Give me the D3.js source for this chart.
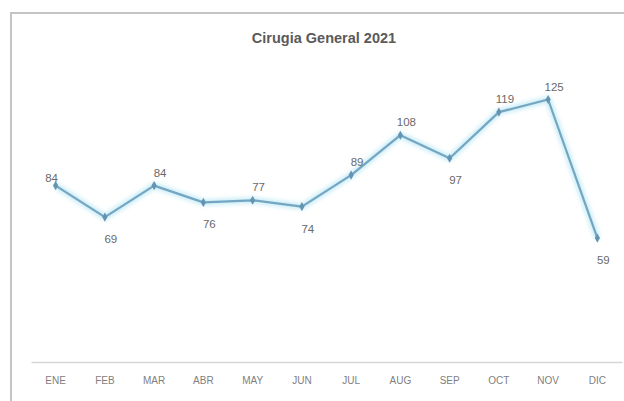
<!DOCTYPE html>
<html>
<head>
<meta charset="utf-8">
<script src="https://cdn.jsdelivr.net/npm/d3@7"></script>
<style>
  html, body { margin: 0; padding: 0; background: #fff; }
  svg { display: block; }
</style>
</head>
<body>
<div id="chart"></div>
<script>
// Monthly surgery counts, General Surgery 2021
const months = ["ENE", "FEB", "MAR", "ABR", "MAY", "JUN", "JUL", "AUG", "SEP", "OCT", "NOV", "DIC"];
const cases = [84, 69, 84, 76, 77, 74, 89, 108, 97, 119, 125, 59];
const chartTitle = "Cirugia General 2021";
const yDomain = [0, 140];

const W = 624, H = 401;
const svg = d3.select("#chart").append("svg")
  .attr("width", W).attr("height", H);

// chart frame
svg.append("path")
  .attr("d", `M11,${H} L11,13 L${W},13`)
  .attr("fill", "none")
  .attr("stroke", "#c4c4c4")
  .attr("stroke-width", 2);

const x = d3.scaleBand().domain(months).range([31, 622]);
const y = d3.scaleLinear().domain(yDomain).range([362, 68]);

// title
svg.append("text")
  .attr("x", 324).attr("y", 43)
  .attr("text-anchor", "middle")
  .attr("font-family", "'Liberation Sans', Arial, sans-serif")
  .attr("font-weight", "bold")
  .attr("font-size", 14.5)
  .attr("fill", "#5a5a5a")
  .text(chartTitle);

// category axis
const xAxis = svg.append("g")
  .attr("transform", `translate(0,${y(0)})`)
  .call(d3.axisBottom(x).tickSize(0).tickPadding(15));
xAxis.select(".domain").attr("stroke", "#d6d6d6").attr("stroke-width", 1.5);
xAxis.selectAll("text")
  .attr("font-family", "'Liberation Sans', Arial, sans-serif")
  .attr("font-size", 10)
  .attr("fill", "#808080");

const cx = (d, i) => x(months[i]) + x.bandwidth() / 2;
const line = d3.line().x(cx).y(d => y(d));

// soft halo under the series line
const defs = svg.append("defs");
defs.append("filter").attr("id", "halo")
  .attr("x", "-10%").attr("y", "-10%").attr("width", "120%").attr("height", "120%")
  .append("feGaussianBlur").attr("stdDeviation", 2);

svg.append("path")
  .datum(cases)
  .attr("d", line)
  .attr("fill", "none")
  .attr("stroke", "#c8ecf7")
  .attr("stroke-width", 6)
  .attr("stroke-linejoin", "round")
  .attr("filter", "url(#halo)");

svg.append("path")
  .datum(cases)
  .attr("d", line)
  .attr("fill", "none")
  .attr("stroke", "#74a6c2")
  .attr("stroke-width", 2.2)
  .attr("stroke-linejoin", "round");

svg.append("g").selectAll("path")
  .data(cases)
  .join("path")
  .attr("d", d3.symbol(d3.symbolDiamond, 24))
  .attr("transform", (d, i) => `translate(${cx(d, i)},${y(d)})`)
  .attr("fill", "#6394b2");

// value labels: below the point when the month dropped, above otherwise
svg.append("g").selectAll("text")
  .data(cases)
  .join("text")
  .attr("x", (d, i) => cx(d, i) + (i === 0 ? -4 : 6))
  .attr("y", (d, i) => i === 0 ? y(d) - 4 : (d < cases[i - 1]) ? y(d) + 26 : y(d) - 9)
  .attr("text-anchor", "middle")
  .attr("font-family", "'Liberation Sans', Arial, sans-serif")
  .attr("font-size", 11.5)
  .attr("fill", "#6a6a6a")
  .text(d => d);
</script>
</body>
</html>
